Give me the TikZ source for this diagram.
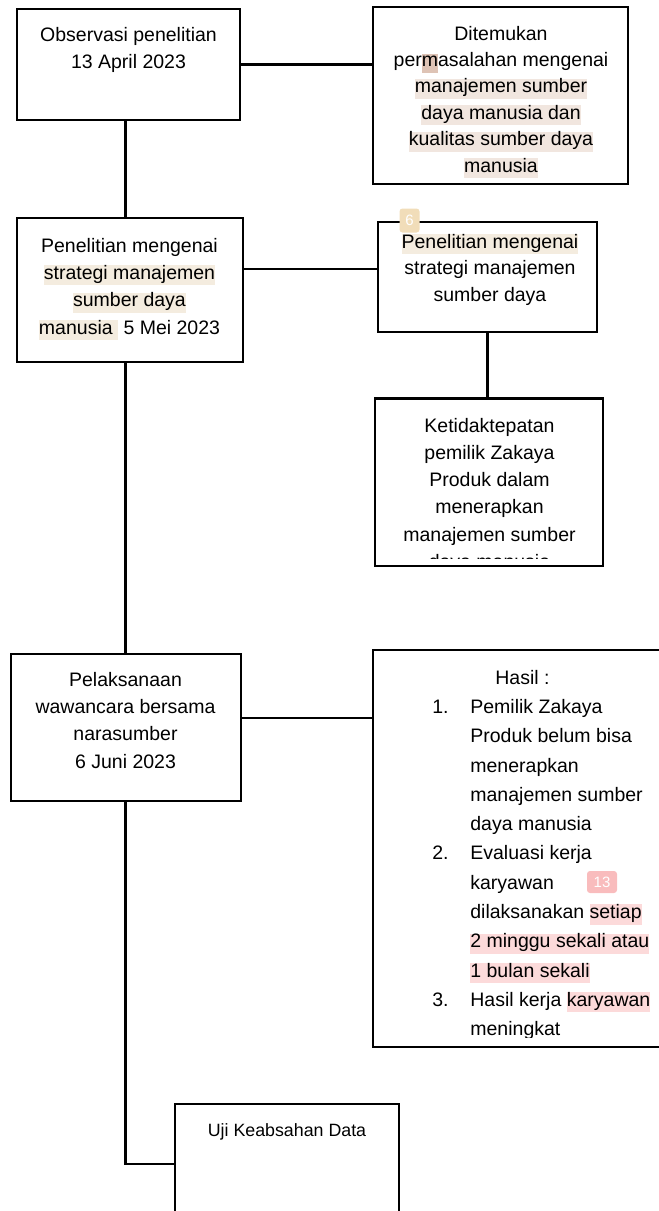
\documentclass[tikz,border=0pt]{standalone}
\usepackage{fontspec}
\setmainfont{Liberation Sans}
\definecolor{hlsand}{HTML}{F4ECDF}
\definecolor{hlrose}{HTML}{F1E6DF}
\definecolor{hlmark}{HTML}{DEC3B5}
\definecolor{hlpink}{HTML}{FCDADA}
\definecolor{tagsand}{HTML}{F1DDB9}
\definecolor{tagpink}{HTML}{F9BCBD}
\newcommand{\hlx}[2]{{\setlength{\fboxsep}{0pt}\colorbox{#1}{\rule[-6pt]{0pt}{19pt}#2}}}
\newcommand{\hasilnum}[1]{\makebox[38pt][l]{#1}}
\newcommand{\hasilgap}{\hspace*{38pt}}
\begin{document}
\begin{tikzpicture}[x=1pt,y=-1pt,
            line width=2.8pt,
            box/.style={draw,rectangle,inner sep=0pt,outer sep=0pt},
            txt/.style={align=center,inner sep=0pt,anchor=north,font=\fontsize{19.5}{27}\selectfont},
            tag/.style={rounded corners=3pt,text=white,inner sep=0pt,font=\fontsize{15}{15}\selectfont}]
        \useasboundingbox (0,0) rectangle (659,1211);
        \clip (0,0) rectangle (659,1211);

        % Define boxes
        \node[box,minimum width=223pt,minimum height=111pt] (obs) at (128.5,64.5) {};
        \node[box,minimum width=255pt,minimum height=177pt] (temu) at (500.5,95.5) {};
        \node[box,minimum width=226pt,minimum height=144pt] (pen) at (130,290) {};
        \node[box,minimum width=219pt,minimum height=110pt] (penr) at (487.5,277) {};
        \node[box,minimum width=228pt,minimum height=167.5pt] (ketid) at (489,482.25) {};
        \node[box,minimum width=230pt,minimum height=147pt] (pel) at (126,727.5) {};
        \node[box,minimum width=347pt,minimum height=397pt] (hasil) at (546.5,848.5) {};
        \node[box,minimum width=224pt,minimum height=200pt] (uji) at (287,1204) {};

        % Texts
        \node[txt] (obstxt) at (128.5,26.4) {Observasi penelitian\\13 April 2023};
        \node[txt,font=\fontsize{19.5}{26.4}\selectfont] (temutxt) at (501,24.6)
            {Ditemukan\\per\hlx{hlmark}{m}asalahan mengenai\\\hlx{hlrose}{manajemen sumber}\\
             \hlx{hlrose}{daya manusia dan}\\\hlx{hlrose}{kualitas sumber daya}\\\hlx{hlrose}{manusia}};
        \node[txt,font=\fontsize{19.5}{27.3}\selectfont] (pentxt) at (129.5,236.6)
            {Penelitian mengenai\\\hlx{hlsand}{strategi manajemen}\\\hlx{hlsand}{sumber daya}\\
             \hlx{hlsand}{manusia\ }\ 5 Mei 2023};
        \node[txt,font=\fontsize{19.5}{26.7}\selectfont] (penrtxt) at (490,232.5)
            {\hlx{hlsand}{Penelitian mengenai}\\strategi manajemen\\sumber daya};
        \begin{scope}
            \clip (ketid.north west) rectangle (ketid.east |- 0,558);
            \node[txt,font=\fontsize{19.5}{27.25}\selectfont] (ketidtxt) at (489.5,416.6)
                {Ketidaktepatan\\pemilik Zakaya\\Produk dalam\\menerapkan\\manajemen sumber\\daya manusia};
        \end{scope}
        \node[txt,font=\fontsize{19.5}{27.3}\selectfont] (peltxt) at (125.5,670.6)
            {Pelaksanaan\\wawancara bersama\\narasumber\\6 Juni 2023};
        \begin{scope}
            \clip (hasil.north west) rectangle (hasil.east |- 0,1037);
            \node[txt,align=left,anchor=north west,font=\fontsize{19.5}{29.3}\selectfont] (hasiltxt) at (431,668.6)
                {\hspace*{63pt}Hasil :\\
                 \hasilnum{1.}Pemilik Zakaya\\
                 \hasilgap Produk belum bisa\\
                 \hasilgap menerapkan\\
                 \hasilgap manajemen sumber\\
                 \hasilgap daya manusia\\
                 \hasilnum{2.}Evaluasi kerja\\
                 \hasilgap karyawan\\
                 \hasilgap dilaksanakan \hlx{hlpink}{setiap}\\
                 \hasilgap\hlx{hlpink}{2 minggu sekali atau}\\
                 \hasilgap\hlx{hlpink}{1 bulan sekali}\\
                 \hasilnum{3.}Hasil kerja \hlx{hlpink}{karyawan}\\
                 \hasilgap meningkat};
        \end{scope}
        \node[txt,anchor=center,font=\fontsize{17.8}{24}\selectfont] (ujitxt) at (287,1131.7) {Uji Keabsahan Data};

        % Marks
        \node[tag,fill=tagsand,minimum width=20pt,minimum height=24pt] (tag6) at (409.5,220.5) {6};
        \node[tag,fill=tagpink,minimum width=30pt,minimum height=22pt] (tag13) at (602,882) {13};

        % Draw edges
        \coordinate (trunk) at (125.5,0);
        \coordinate (mid2) at (0,269);
        \coordinate (mid3) at (0,718);
        \coordinate (hook) at (0,1164);
        \draw (obs.east) -- (obs.east -| temu.west);
        \draw (obs.south -| trunk) -- (pen.north -| trunk);
        \draw (pen.east |- mid2) -- (penr.west |- mid2);
        \draw (penr.south) -- (penr.south |- ketid.north);
        \draw (pen.south -| trunk) -- (pel.north -| trunk);
        \draw (pel.east |- mid3) -- (hasil.west |- mid3);
        \draw (pel.south -| trunk) |- (uji.west |- hook);
\end{tikzpicture}
\end{document}
